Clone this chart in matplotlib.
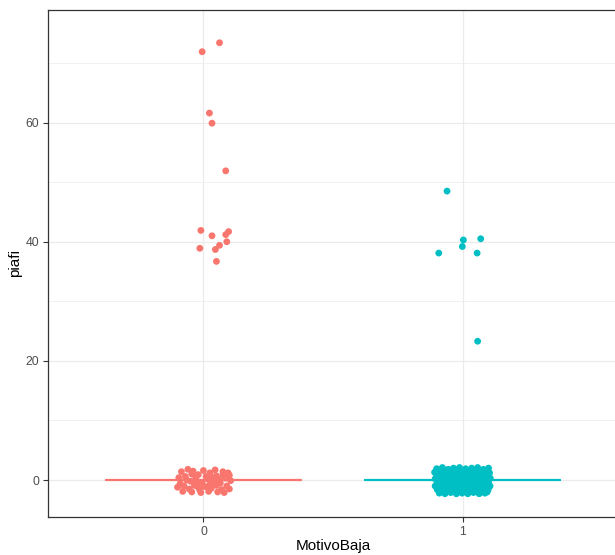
import matplotlib
matplotlib.use("Agg")
import matplotlib.pyplot as plt
import numpy as np

plt.rcParams['font.family'] = ['Liberation Sans', 'DejaVu Sans']

categories = ["0", "1"]
colors = ["#F8766D", "#00BFC4"]

# group "0": outlying piafi values (displayed) and their horizontal jitter
g0_high = [73.4, 71.9, 61.6, 59.9, 51.9, 41.9, 41.0, 41.7, 41.2, 40.0, 38.9, 38.7, 39.4, 36.7]
g0_high_dx = [0.062, -0.005, 0.023, 0.033, 0.086, -0.010, 0.033, 0.097, 0.086, 0.090, -0.014, 0.046, 0.062, 0.050]

# group "0": zero values, jitter offsets
g0_zero_dx = [-0.085, -0.060, -0.045, -0.020, 0.025, 0.050, 0.075, 0.100,
              -0.095, -0.070, -0.050, -0.030, -0.005, 0.015, 0.040, 0.060, 0.085, 0.105,
              -0.090, -0.075, -0.055, -0.035, -0.015, 0.005, 0.030, 0.050, 0.070, 0.090,
              -0.080, -0.045, -0.010, 0.020, 0.055, 0.080, 0.100,
              -0.065, -0.025, 0.010, 0.035, 0.065, 0.095, -0.040, 0.000, 0.045, -0.100, 0.075, -0.020, 0.025]
g0_zero_dy = [1.4, 1.8, 1.0, 0.9, 1.2, 0.7, 1.4, 0.8,
              0.4, 0.6, -0.2, 0.3, -0.5, 0.2, -0.3, 0.1, 0.3, -0.1,
              -0.6, -1.0, -1.5, -0.9, -1.6, -1.1, -1.4, -0.9, -1.6, -1.0,
              -1.9, -2.0, -2.1, -1.9, -2.0, -2.1, -1.5,
              0.0, -0.3, 0.6, 0.4, -0.5, 1.2, 1.5, 1.6, 1.7, -1.2, 0.9, -1.2, -0.7]

# group "1": outlying piafi values and jitter
g1_high = [48.5, 40.3, 40.5, 39.2, 38.1, 38.1, 23.3]
g1_high_dx = [-0.060, 0.003, 0.070, -0.001, -0.092, 0.056, 0.058]

# group "1": zero values, jitter offsets
g1_zero_dx = [-0.100, -0.078, -0.055, -0.035, -0.012, 0.012, 0.035, 0.058, 0.080, 0.100,
              -0.108, -0.088, -0.066, -0.045, -0.024, -0.003, 0.020, 0.042, 0.064, 0.086, 0.104,
              -0.100, -0.078, -0.057, -0.036, -0.014, 0.008, 0.030, 0.052, 0.074, 0.095,
              -0.106, -0.086, -0.064, -0.042, -0.020, 0.000, 0.022, 0.045, 0.068, 0.090, 0.107,
              -0.098, -0.076, -0.054, -0.032, -0.010, 0.014, 0.036, 0.058, 0.080, 0.100,
              -0.106, -0.085, -0.063, -0.041, -0.019, 0.003, 0.025, 0.047, 0.069, 0.090, 0.106,
              -0.098, -0.076, -0.054, -0.032, -0.010, 0.012, 0.034, 0.056, 0.078, 0.099,
              -0.090, -0.068, -0.046, -0.024, -0.002, 0.020, 0.042, 0.064, 0.086,
              -0.060, 0.070, -0.030, 0.050, -0.090, 0.095, -0.015, 0.030]
g1_zero_dy = [1.9, 2.1, 1.8, 2.0, 2.1, 1.9, 2.0, 2.1, 1.8, 2.0,
              1.3, 1.5, 1.4, 1.2, 1.5, 1.3, 1.4, 1.6, 1.3, 1.5, 1.2,
              0.8, 0.6, 0.9, 0.7, 0.9, 0.6, 0.8, 0.9, 0.6, 0.8,
              0.2, 0.3, 0.1, 0.3, 0.1, 0.3, 0.0, 0.2, 0.3, 0.1, 0.3,
              -0.4, -0.3, -0.5, -0.4, -0.3, -0.5, -0.4, -0.3, -0.5, -0.4,
              -1.0, -0.9, -1.1, -0.9, -1.0, -1.1, -0.9, -1.0, -1.1, -0.9, -1.0,
              -1.6, -1.5, -1.7, -1.6, -1.5, -1.7, -1.6, -1.5, -1.7, -1.6,
              -2.2, -2.3, -2.1, -2.3, -2.2, -2.3, -2.1, -2.3, -2.2,
              1.7, 1.0, -0.7, -1.3, -1.3, -2.0, 0.5, 1.1]

y_ticks = [0, 20, 40, 60]

fig = plt.figure(figsize=(6.15, 5.55), dpi=100)
ax = fig.add_axes([0.078, 0.0685, 0.927, 0.9135])

groups = [
    (g0_high, g0_high_dx, g0_zero_dx, g0_zero_dy),
    (g1_high, g1_high_dx, g1_zero_dx, g1_zero_dy),
]

# underlying data for boxplots
box_data = []
for high, hdx, zdx, zdy in groups:
    box_data.append(np.array(list(high) + [0.0] * len(zdx)))

for i, (data, col) in enumerate(zip(box_data, colors)):
    ax.boxplot([data], positions=[i], widths=0.75, showfliers=False,
               patch_artist=False, manage_ticks=False,
               boxprops=dict(color=col, linewidth=1.3),
               medianprops=dict(color=col, linewidth=1.6),
               whiskerprops=dict(color=col, linewidth=1.3),
               capprops=dict(color=col, linewidth=0),
               zorder=2)

for i, ((high, hdx, zdx, zdy), col) in enumerate(zip(groups, colors)):
    xs = [i + d for d in hdx] + [i + d for d in zdx]
    ys = list(high) + [0.0 + d for d in zdy]
    ax.scatter(xs, ys, s=24, color=col, edgecolors='none', zorder=3)

ax.set_xlim(-0.6, 1.6)
ax.set_ylim(-6.2, 78.9)
ax.set_xticks([0, 1])
ax.set_xticklabels(categories)
ax.set_yticks(y_ticks)
ax.set_yticks([10, 30, 50, 70], minor=True)

ax.grid(True, which='major', color='#EBEBEB', linewidth=0.9, zorder=0)
ax.grid(True, which='minor', axis='y', color='#EBEBEB', linewidth=0.5, zorder=0)
ax.set_axisbelow(True)

for sp in ax.spines.values():
    sp.set_color('#333333')
    sp.set_linewidth(0.9)

ax.tick_params(axis='both', which='major', length=3.8, width=0.8, color='#333333',
               labelsize=8.8, labelcolor='#4D4D4D', pad=2.5)
ax.tick_params(axis='both', which='minor', length=0)

ax.set_xlabel("MotivoBaja", fontsize=11, color='black', labelpad=1.0)
ax.set_ylabel("piafi", fontsize=11, color='black', labelpad=2.5)

fig.savefig("out.png", dpi=100)
